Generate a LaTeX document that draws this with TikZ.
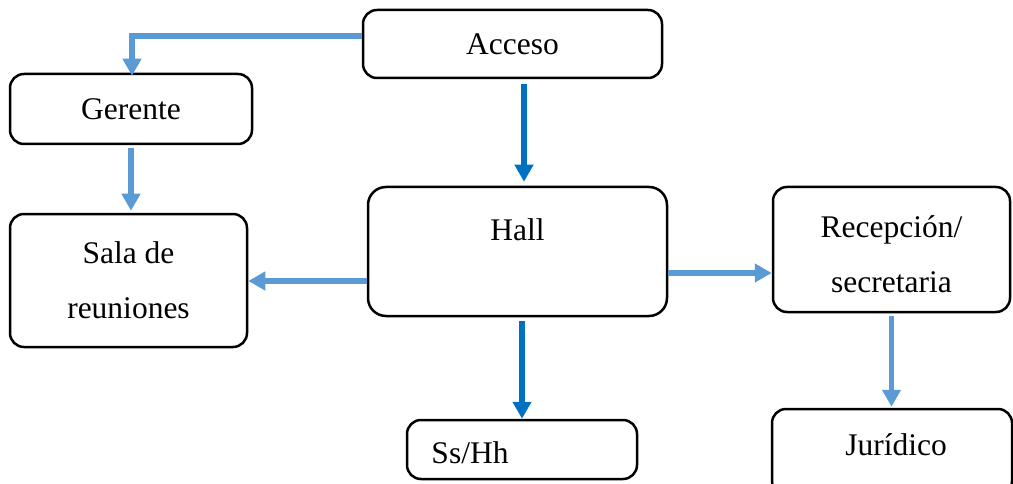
\documentclass[tikz,border=0pt]{standalone}
\usepackage{fontspec}
\setmainfont{Liberation Serif}
\usetikzlibrary{arrows.meta}
\definecolor{lblue}{HTML}{5B9BD5}
\definecolor{dblue}{HTML}{0070C0}
\begin{document}
\begin{tikzpicture}[x=1pt,y=1pt,
 box/.style={draw=black,line width=2.5pt,rounded corners=14pt,inner sep=0pt,align=center,font=\fontsize{31.5}{55}\selectfont},
 txt/.style={inner sep=0pt,align=center,font=\fontsize{31.5}{55}\selectfont},
 larr/.style={draw=lblue,line width=5.5pt,-{Triangle[length=17pt,width=18pt]}},
 darr/.style={draw=dblue,line width=5.5pt,-{Triangle[length=17pt,width=18pt]}}]
\useasboundingbox (0,0) rectangle (1013,483);
\node[box,minimum width=299pt,minimum height=68pt] (acc) at (512.5,439) {Acceso};
\node[box,minimum width=242pt,minimum height=70pt] (ger) at (131,374) {Gerente};
\node[box,minimum width=237pt,minimum height=133pt] (sala) at (128.5,202.5) {Sala de\\reuniones};
\node[box,rounded corners=18pt,minimum width=299pt,minimum height=129pt] (hall) at (517.5,231.5) {};
\node[box,minimum width=237pt,minimum height=125pt] (rec) at (891.5,233.5) {};
\node[box,minimum width=230pt,minimum height=59pt] (ss) at (522,33.5) {};
\node[box,minimum width=240pt,minimum height=86pt] (jur) at (892,31) {};
\node[txt] (hallT) at ([yshift=-44pt]hall.north) {Hall};
\node[txt] (recT) at ([yshift=-4.5pt]rec.center) {Recepción/\\secretaria};
\node[txt] (ssT) at ([xshift=-52pt,yshift=-3.5pt]ss.center) {Ss/Hh};
\node[txt] (jurT) at ([xshift=4pt,yshift=7pt]jur.center) {Jurídico};
\draw[larr] ([yshift=8pt]acc.west) -| ([xshift=1pt,yshift=-3pt]ger.north);
\draw[darr] ([xshift=11.5pt,yshift=-5pt]acc.south) -- ([xshift=6.5pt,yshift=4pt]hall.north);
\draw[larr] ([yshift=-3pt]ger.south) -- ([yshift=2pt]ger.south |- sala.north);
\draw[larr] ([yshift=-29.5pt]hall.west) -- ([yshift=-29.5pt]hall.west -| sala.east);
\draw[larr] ([yshift=-21.5pt]hall.east) -- ([yshift=-21.5pt]hall.east -| rec.west);
\draw[darr] ([yshift=-4pt]hall.south -| ss.north) -- (ss.north);
\draw[larr] ([yshift=-3pt]rec.south) -- ([yshift=1pt]rec.south |- jur.north);
\end{tikzpicture}
\end{document}
